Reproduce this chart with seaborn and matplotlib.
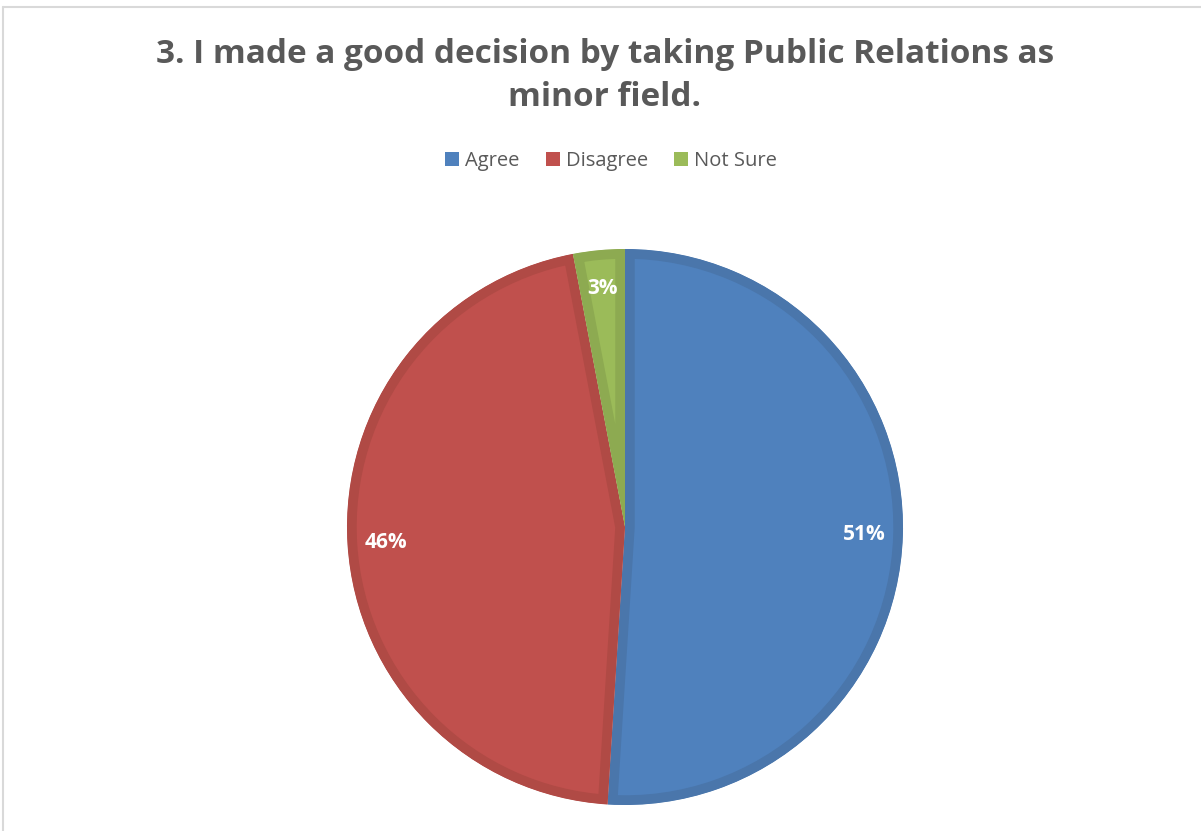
import matplotlib
matplotlib.use("Agg")
import matplotlib.pyplot as plt
from matplotlib.lines import Line2D
from matplotlib.patches import Patch
import seaborn as sns

# Survey responses
categories = ["Agree", "Disagree", "Not Sure"]
shares = [51, 46, 3]
title_text = "3. I made a good decision by taking Public Relations as\nminor field."

face_colors = ["#4F81BD", "#C0504D", "#9BBB59"]
edge_colors = ["#4A76AB", "#B04A45", "#8DAA51"]

sns.set_theme(style="white")
plt.rcParams["font.family"] = ["Open Sans", "DejaVu Sans"]

W, H = 1201, 831
fig = plt.figure(figsize=(W / 100, H / 100), dpi=100)
fig.patch.set_facecolor("white")

# Pie axes: 1 data unit = 278 px, centred at (625, 527) px from top-left
cx, cy, r_px, half = 625, 527, 278, 300
ax = fig.add_axes([(cx - half) / W, (H - cy - half) / H, 2 * half / W, 2 * half / H])
lim = half / r_px
wedges, texts, autotexts = ax.pie(
    shares,
    colors=face_colors,
    startangle=90,
    counterclock=False,
    radius=1.0,
    autopct=lambda p: f"{p:.0f}%",
    pctdistance=0.86,
    wedgeprops=dict(linewidth=14, joinstyle="miter"),
    textprops=dict(color="white", fontsize=15, fontweight="bold"),
)
for w, ec in zip(wedges, edge_colors):
    w.set_edgecolor(ec)
    w.set_clip_on(True)
    w.set_clip_path(w)  # keep the stroke on the inside of each slice
ax.set_xlim(-lim, lim)
ax.set_ylim(-lim, lim)
ax.set_aspect("equal")
ax.axis("off")

# Title
fig.text(605 / W, 1 - 76 / H, title_text, ha="center", va="center",
         fontsize=24, fontweight="bold", color="#595959", linespacing=1.42)

# Legend
handles = [Patch(facecolor=c, edgecolor="none") for c in face_colors]
fig.legend(handles, categories, loc="center", bbox_to_anchor=(611 / W, 1 - 161 / H),
           ncol=3, frameon=False, fontsize=14.5, handlelength=0.7, handleheight=0.7,
           handletextpad=0.3, columnspacing=1.3, labelcolor="#595959")

# Chart-area border (top and left edges)
border = "#D9D9D9"
fig.add_artist(Line2D([3 / W, 1], [1 - 7 / H, 1 - 7 / H], color=border, lw=1.5))
fig.add_artist(Line2D([3 / W, 3 / W], [0, 1 - 7 / H], color=border, lw=1.5))

fig.savefig("out.png", dpi=100)
